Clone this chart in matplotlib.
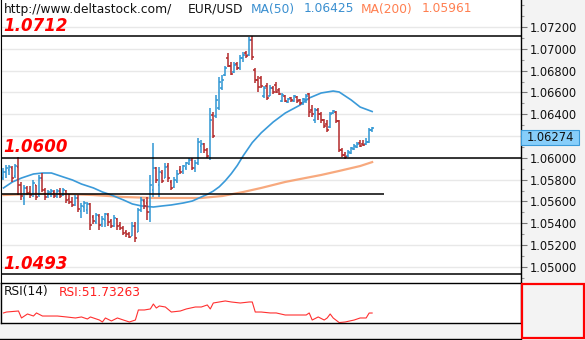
import matplotlib
matplotlib.use("Agg")
import matplotlib.pyplot as plt
from matplotlib.patches import Rectangle
from matplotlib.lines import Line2D
from matplotlib.ticker import FixedLocator, MultipleLocator
import numpy as np

# ---- EUR/USD OHLC bars ----
opens = [
    1.05815, 1.05870, 1.05889, 1.05907, 1.05834, 1.05916, 1.05751, 1.05632, 1.05724, 1.05687,
    1.05669, 1.05751, 1.05659, 1.05815, 1.05705, 1.05650, 1.05678, 1.05687, 1.05650, 1.05696,
    1.05659, 1.05696, 1.05623, 1.05595, 1.05568, 1.05632, 1.05513, 1.05549, 1.05522, 1.05577,
    1.05458, 1.05412, 1.05467, 1.05394, 1.05430, 1.05476, 1.05421, 1.05375, 1.05439, 1.05384,
    1.05357, 1.05320, 1.05302, 1.05283, 1.05375, 1.05320, 1.05522, 1.05604, 1.05586, 1.05504,
    1.05705, 1.05907, 1.05751, 1.05861, 1.05815, 1.05925, 1.05779, 1.05733, 1.05788, 1.05889,
    1.05880, 1.05907, 1.05944, 1.05980, 1.05907, 1.05953, 1.06109, 1.06127, 1.06072, 1.05999,
    1.06393, 1.06384, 1.06457, 1.06641, 1.06760, 1.06916, 1.06842, 1.06787, 1.06861, 1.06824,
    1.06916, 1.06962, 1.06943, 1.07081, 1.06806, 1.06714, 1.06732, 1.06567, 1.06659, 1.06567,
    1.06641, 1.06668, 1.06622, 1.06521, 1.06567, 1.06512, 1.06549, 1.06521, 1.06558, 1.06531,
    1.06503, 1.06531, 1.06586, 1.06439, 1.06347, 1.06439, 1.06402, 1.06347, 1.06311, 1.06283,
    1.06411, 1.06421, 1.06338, 1.06072, 1.06026, 1.06017, 1.06045, 1.06081, 1.06100, 1.06136,
    1.06127, 1.06127, 1.06145, 1.06255,
]
highs = [
    1.05907, 1.05935, 1.05935, 1.05925, 1.05944, 1.06008, 1.05779, 1.05751, 1.05742, 1.05742,
    1.05797, 1.05751, 1.05843, 1.05861, 1.05724, 1.05705, 1.05714, 1.05705, 1.05714, 1.05724,
    1.05724, 1.05705, 1.05669, 1.05641, 1.05659, 1.05659, 1.05586, 1.05604, 1.05595, 1.05586,
    1.05476, 1.05494, 1.05485, 1.05467, 1.05494, 1.05494, 1.05439, 1.05476, 1.05449, 1.05412,
    1.05375, 1.05338, 1.05320, 1.05412, 1.05412, 1.05540, 1.05641, 1.05623, 1.05641, 1.05843,
    1.06136, 1.05916, 1.05916, 1.05889, 1.05953, 1.05953, 1.05797, 1.05824, 1.05889, 1.05925,
    1.05935, 1.05962, 1.05999, 1.05999, 1.05980, 1.06182, 1.06164, 1.06136, 1.06090, 1.06457,
    1.06421, 1.06576, 1.06741, 1.06760, 1.06842, 1.06962, 1.06879, 1.06879, 1.06879, 1.06943,
    1.06971, 1.06980, 1.07110, 1.07120, 1.06824, 1.06751, 1.06751, 1.06659, 1.06686, 1.06668,
    1.06659, 1.06696, 1.06641, 1.06595, 1.06576, 1.06549, 1.06558, 1.06576, 1.06567, 1.06540,
    1.06549, 1.06586, 1.06595, 1.06485, 1.06457, 1.06457, 1.06421, 1.06356, 1.06347, 1.06421,
    1.06439, 1.06430, 1.06347, 1.06090, 1.06054, 1.06072, 1.06100, 1.06127, 1.06145, 1.06164,
    1.06164, 1.06182, 1.06274, 1.06283,
]
lows = [
    1.05797, 1.05815, 1.05843, 1.05779, 1.05815, 1.05659, 1.05614, 1.05568, 1.05659, 1.05632,
    1.05641, 1.05614, 1.05641, 1.05687, 1.05614, 1.05632, 1.05641, 1.05632, 1.05632, 1.05632,
    1.05650, 1.05586, 1.05577, 1.05549, 1.05559, 1.05504, 1.05449, 1.05504, 1.05485, 1.05338,
    1.05394, 1.05394, 1.05338, 1.05366, 1.05366, 1.05375, 1.05357, 1.05366, 1.05338, 1.05338,
    1.05293, 1.05274, 1.05265, 1.05283, 1.05228, 1.05320, 1.05504, 1.05531, 1.05430, 1.05412,
    1.05641, 1.05769, 1.05641, 1.05769, 1.05815, 1.05779, 1.05705, 1.05724, 1.05769, 1.05852,
    1.05852, 1.05889, 1.05935, 1.05889, 1.05870, 1.05935, 1.06045, 1.06045, 1.05999, 1.05980,
    1.06182, 1.06366, 1.06439, 1.06622, 1.06751, 1.06833, 1.06760, 1.06778, 1.06806, 1.06806,
    1.06879, 1.06916, 1.06934, 1.06897, 1.06686, 1.06604, 1.06641, 1.06549, 1.06531, 1.06567,
    1.06586, 1.06595, 1.06576, 1.06512, 1.06512, 1.06503, 1.06512, 1.06512, 1.06503, 1.06485,
    1.06485, 1.06503, 1.06375, 1.06375, 1.06320, 1.06347, 1.06320, 1.06274, 1.06237, 1.06274,
    1.06402, 1.06320, 1.06054, 1.06008, 1.05990, 1.06008, 1.06035, 1.06072, 1.06090, 1.06100,
    1.06109, 1.06118, 1.06136, 1.06237,
]
closes = [
    1.05870, 1.05907, 1.05916, 1.05815, 1.05925, 1.05751, 1.05650, 1.05724, 1.05678, 1.05659,
    1.05769, 1.05641, 1.05815, 1.05705, 1.05641, 1.05687, 1.05696, 1.05650, 1.05696, 1.05650,
    1.05705, 1.05614, 1.05595, 1.05568, 1.05632, 1.05531, 1.05559, 1.05586, 1.05577, 1.05384,
    1.05421, 1.05476, 1.05384, 1.05439, 1.05485, 1.05412, 1.05375, 1.05449, 1.05375, 1.05357,
    1.05311, 1.05302, 1.05274, 1.05375, 1.05265, 1.05522, 1.05614, 1.05559, 1.05504, 1.05751,
    1.05907, 1.05797, 1.05870, 1.05788, 1.05916, 1.05815, 1.05724, 1.05797, 1.05852, 1.05870,
    1.05925, 1.05953, 1.05980, 1.05907, 1.05953, 1.06145, 1.06127, 1.06072, 1.06017, 1.06347,
    1.06200, 1.06531, 1.06696, 1.06714, 1.06824, 1.06842, 1.06769, 1.06852, 1.06824, 1.06916,
    1.06943, 1.06934, 1.07081, 1.06925, 1.06714, 1.06650, 1.06659, 1.06641, 1.06549, 1.06641,
    1.06604, 1.06604, 1.06586, 1.06576, 1.06521, 1.06540, 1.06531, 1.06567, 1.06521, 1.06503,
    1.06540, 1.06567, 1.06421, 1.06402, 1.06439, 1.06402, 1.06347, 1.06292, 1.06255, 1.06402,
    1.06430, 1.06338, 1.06072, 1.06026, 1.06008, 1.06054, 1.06090, 1.06109, 1.06127, 1.06109,
    1.06118, 1.06145, 1.06255, 1.06274,
]

# ---- moving averages (bar index, value) ----
ma50_idx = [0, 3, 6, 10, 13, 16, 20, 23, 26, 30, 33, 36, 40, 43, 46, 50, 53, 56, 60, 63,
            66, 68, 70, 72, 74, 76, 78, 80, 83, 86, 90, 94, 99, 102, 106, 110, 112, 116,
            119, 123]
ma50_val = [1.05724, 1.05779, 1.05815, 1.05852, 1.05861, 1.05861, 1.05824, 1.05797, 1.05760,
            1.05724, 1.05687, 1.05659, 1.05614, 1.05577, 1.05559, 1.05549, 1.05559, 1.05568,
            1.05586, 1.05604, 1.05641, 1.05665, 1.05695, 1.05735, 1.05790, 1.05855, 1.05930,
            1.06020, 1.06140, 1.06230, 1.06329, 1.06411, 1.06485, 1.06549, 1.06595, 1.06613,
            1.06604, 1.06531, 1.06466, 1.06425]
ma200_idx = [0, 10, 20, 30, 40, 50, 60, 66, 73, 80, 86, 94, 99, 106, 112, 119, 123]
ma200_val = [1.05659, 1.05669, 1.05669, 1.05659, 1.05641, 1.05632, 1.05632, 1.05632, 1.05650,
             1.05687, 1.05724, 1.05779, 1.05806, 1.05843, 1.05880, 1.05925, 1.05961]

# ---- RSI(14) ----
rsi_idx = [0, 1, 5, 6, 8, 10, 11, 13, 18, 21, 24, 26, 28, 29, 32, 33, 34, 36, 38, 40,
           42, 44, 45, 47, 49, 50, 51, 52, 54, 56, 59, 61, 64, 66, 68, 69, 70, 72, 74, 76,
           79, 82, 83, 84, 86, 89, 91, 94, 97, 101, 102, 103, 105, 107, 108, 109, 110, 112,
           114, 117, 119, 121, 122, 123]
rsi_val = [51.8, 52.9, 54.1, 45.9, 50.6, 48.2, 51.8, 48.2, 48.2, 47.1, 45.9, 47.1, 44.7,
           47.1, 43.5, 41.2, 45.9, 42.4, 45.9, 43.5, 41.2, 43.5, 55.3, 55.3, 56.5, 62.3,
           57.6, 60.0, 58.8, 52.9, 54.1, 56.5, 58.8, 58.8, 61.2, 56.5, 63.5, 64.7, 65.9,
           64.7, 63.5, 64.7, 64.7, 52.9, 52.9, 51.8, 51.8, 49.4, 49.4, 49.4, 51.8, 43.5,
           47.1, 43.5, 45.9, 50.6, 45.9, 40.5, 41.2, 43.5, 45.9, 45.9, 51.7, 51.73263]

# ---- levels and labels ----
level_values = [1.0712, 1.0600, 1.0493]
level_labels = ["1.0712", "1.0600", "1.0493"]
partial_level = 1.0567
partial_level_end = 127
price_ticks = [1.072, 1.070, 1.068, 1.066, 1.064, 1.060, 1.058, 1.056, 1.054, 1.052, 1.050]
grid_levels = [1.072, 1.070, 1.068, 1.066, 1.064, 1.062, 1.060, 1.058, 1.056, 1.054, 1.052, 1.050]
last_price = 1.06274
ma50_last = 1.06425
ma200_last = 1.05961
rsi_last = 51.73263
symbol = "EUR/USD"
site = "http://www.deltastock.com/"

# ---- figure ----
W, H = 585, 340
BG = "#f3f3f3"
BLUE = "#2f96d3"
RED = "#b3292b"
MA50_C = "#3a9ad9"
MA200_C = "#f7a070"

fig = plt.figure(figsize=(W / 100, H / 100), dpi=100, facecolor=BG)


def fx(x):
    return x / W


def fy(y):
    return 1 - y / H


PANEL_R = 521
ax = fig.add_axes([fx(0.5), fy(283), (PANEL_R - 0.5) / W, 283 / H])
ax.set_facecolor("white")
ax.set_xlim(-1, (PANEL_R - 3) / 3)
ax.set_ylim(1.04852, 1.07448)

for g in grid_levels:
    ax.axhline(g, color="#e8e8e8", lw=1.0, zorder=0)

o = np.array(opens)
h = np.array(highs)
l = np.array(lows)
c = np.array(closes)
x = np.arange(len(c))
cols = np.where(c >= o, BLUE, RED)
lw = 1.1
ax.vlines(x, l, h, colors=cols, lw=lw, zorder=3)
ax.hlines(o, x - 0.6, x, colors=cols, lw=lw, zorder=3)
ax.hlines(c, x, x + 0.6, colors=cols, lw=lw, zorder=3)

ax.plot(ma200_idx, ma200_val, color=MA200_C, lw=1.6, alpha=0.9, zorder=2)
ax.plot(ma50_idx, ma50_val, color=MA50_C, lw=1.2, zorder=2)

for v in level_values:
    ax.axhline(v, color="black", lw=1.1, zorder=4)
ax.hlines(partial_level, -1, partial_level_end, color="black", lw=1.1, zorder=4)

label_y = {1.0712: 26, 1.0600: 147.5, 1.0493: 264}
for v, s in zip(level_values, level_labels):
    fig.text(fx(3), fy(label_y[v]), s, color="#ff0000", fontsize=12, fontweight="bold",
             fontstyle="italic", va="center", ha="left", zorder=10)

# right price scale
ax.yaxis.tick_right()
ax.yaxis.set_major_locator(FixedLocator(price_ticks))
ax.yaxis.set_minor_locator(MultipleLocator(0.001))
ax.set_yticklabels([f"{t:.5f}" for t in price_ticks])
ax.tick_params(axis="y", which="major", length=4, width=0.8, color="#777777",
               labelsize=8.3, pad=2, labelcolor="#111111")
ax.tick_params(axis="y", which="minor", length=2, width=0.8, color="#999999")
ax.set_xticks([])
for side in ("top", "bottom"):
    ax.spines[side].set_visible(False)
ax.spines["left"].set_color("black")
ax.spines["right"].set_color("black")
ax.spines["right"].set_linewidth(1.0)

# current price box
fig.patches.append(Rectangle((fx(PANEL_R), fy(145)), 58 / W, 15 / H, transform=fig.transFigure,
                             facecolor="#87cefa", edgecolor="#3a9ad9", lw=0.8, zorder=5))
fig.text(fx(550), fy(137.5), f"{last_price:.5f}", fontsize=8.3, color="#111111",
         ha="center", va="center", zorder=6)

# header
hy = fy(9)
hs = 8.8
fig.text(fx(4), hy, site, fontsize=hs, color="#111111", va="center")
fig.text(fx(188), hy, symbol, fontsize=hs, color="#111111", va="center")
fig.text(fx(251), hy, "MA(50)", fontsize=hs, color="#3a8fd0", va="center")
fig.text(fx(304), hy, f"{ma50_last:.5f}", fontsize=hs, color="#3a8fd0", va="center")
fig.text(fx(361), hy, "MA(200)", fontsize=hs, color="#ff7f50", va="center")
fig.text(fx(422), hy, f"{ma200_last:.5f}", fontsize=hs, color="#ff7f50", va="center")

# RSI panel
rax = fig.add_axes([fx(0.5), fy(323), (PANEL_R - 0.5) / W, 40 / H])
rax.set_facecolor("white")
rax.set_xlim(-1, (PANEL_R - 3) / 3)
rax.set_ylim(40, 87)
rax.plot(rsi_idx, rsi_val, color="#ff3030", lw=0.8)
rax.set_xticks([])
rax.set_yticks([])
for s in rax.spines.values():
    s.set_color("black")
    s.set_linewidth(1.0)
fig.text(fx(4), fy(292), "RSI(14)", fontsize=hs, color="#111111", va="center")
fig.text(fx(59), fy(292), f"RSI:{rsi_last:.5f}", fontsize=hs, color="#ff2020", va="center")

# red frame under the price scale
fig.patches.append(Rectangle((fx(PANEL_R + 0.5), fy(338)), 62 / W, 54 / H,
                             transform=fig.transFigure, facecolor=BG, edgecolor="#ff0000",
                             lw=1.6, zorder=5))
fig.lines.append(Line2D([0, fx(PANEL_R)], [fy(338.5), fy(338.5)], transform=fig.transFigure,
                        color="black", lw=1.0))

fig.savefig("out.png", dpi=100, facecolor=BG)
